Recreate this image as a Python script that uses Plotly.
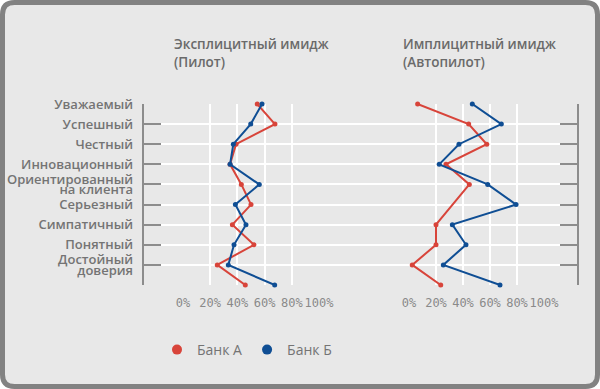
import plotly.graph_objects as go

# ---------------- data ----------------
categories = ["Уважаемый", "Успешный", "Честный", "Инновационный",
              "Ориентированный<br>на клиента", "Серьезный", "Симпатичный",
              "Понятный", "Достойный<br>доверия", ""]
rows = list(range(len(categories)))

explicit_bank_a = [54.6, 67.6, 39.0, 34.6, 42.9, 50.0, 36.3, 52.2, 25.2, 45.8]
explicit_bank_b = [58.1, 49.8, 37.0, 34.6, 56.1, 38.5, 46.3, 37.5, 33.3, 67.4]
implicit_bank_a = [6.4, 44.2, 57.6, 27.4, 44.7, None, 20.0, 20.0, 2.4, 23.5]
implicit_bank_b = [46.9, 68.4, 37.0, 22.4, 58.3, 79.3, 32.1, 42.2, 25.4, 67.4]

x_tickvals = [0, 20, 40, 60, 80, 100]
x_ticktext = ["0%", "20%", "40%", "60%", "80%", "100%"]

series_names = ["Банк А", "Банк Б"]
titles = ["Эксплицитный имидж<br>(Пилот)", "Имплицитный имидж<br>(Автопилот)"]

# ---------------- style ----------------
RED = "#d8443a"
BLUE = "#0f4e94"
BG = "#e8e8e8"
FRAME = "#828282"
TXT = "#747474"
AX = "#8c8c8c"
W, H = 600, 389
L, R, T, B = 144, 577, 104, 285
LINE_GAP = 0.26  # half line spacing (in row units) for two-line labels


def px_x(p):
    return (p - L) / (R - L)


def px_y(p):
    return (B - p) / (B - T)


# category labels split into lines (tight line spacing like the original)
label_pos, label_txt = [], []
for i, c in enumerate(categories):
    if not c:
        continue
    parts = c.split("<br>")
    if len(parts) == 1:
        label_pos.append(i)
        label_txt.append(c)
    else:
        label_pos += [i - LINE_GAP, i + LINE_GAP]
        label_txt += parts

fig = go.Figure()

# base full-width subplot (carries horizontal grid lines and both side axes)
for ya in ["y", "y2", "y3"]:
    fig.add_trace(go.Scatter(x=[None], y=[None], xaxis="x", yaxis=ya,
                             showlegend=False, hoverinfo="skip"))

panels = [("x2", explicit_bank_a, explicit_bank_b),
          ("x3", implicit_bank_a, implicit_bank_b)]
for xa, a_vals, b_vals in panels:
    for vals, col, name in [(a_vals, RED, series_names[0]), (b_vals, BLUE, series_names[1])]:
        fig.add_trace(go.Scatter(
            x=vals, y=rows, xaxis=xa, yaxis="y", mode="lines+markers",
            line=dict(color=col, width=2), marker=dict(color=col, size=5),
            connectgaps=True, cliponaxis=False, showlegend=False, name=name))

# legend entries (dots only)
for col, name in [(RED, series_names[0]), (BLUE, series_names[1])]:
    fig.add_trace(go.Scatter(x=[None], y=[None], xaxis="x2", yaxis="y",
                             mode="markers", marker=dict(color=col, size=10),
                             name=name, showlegend=True))

xcommon = dict(range=[0, 100], tickvals=x_tickvals, ticktext=x_ticktext,
               showgrid=True, gridcolor="white", gridwidth=1.5, zeroline=False,
               showline=False, ticks="", anchor="y", tickangle=0, automargin=False,
               tickfont=dict(family="DejaVu Sans Mono", size=12, color="#8a8a8a"),
               ticklabelstandoff=9)

# frame with rounded corners
r = 12
x0, y0, x1, y1 = 2.5, 2.5, W - 2.5, H - 2.5


def P(x, y):
    return f"{px_x(x):.5f},{px_y(y):.5f}"


path = (f"M {P(x0 + r, y0)} L {P(x1 - r, y0)} Q {P(x1, y0)} {P(x1, y0 + r)} "
        f"L {P(x1, y1 - r)} Q {P(x1, y1)} {P(x1 - r, y1)} "
        f"L {P(x0 + r, y1)} Q {P(x0, y1)} {P(x0, y1 - r)} "
        f"L {P(x0, y0 + r)} Q {P(x0, y0)} {P(x0 + r, y0)} Z")

yside = dict(range=[9, 0], tickvals=rows, showticklabels=False, zeroline=False,
             showline=True, linecolor=AX, linewidth=2, automargin=False,
             ticks="inside", ticklen=17, tickwidth=2, tickcolor=AX)

fig.update_layout(
    width=W, height=H,
    margin=dict(l=L, r=W - R, t=T, b=H - B, pad=0, autoexpand=False),
    paper_bgcolor="white", plot_bgcolor="rgba(0,0,0,0)",
    font=dict(family="Open Sans", color=TXT),
    xaxis=dict(domain=[0, 1], range=[0, 1], visible=False, anchor="y", automargin=False),
    xaxis2=dict(domain=[px_x(183), px_x(319)], **xcommon),
    xaxis3=dict(domain=[px_x(409), px_x(544)], **xcommon),
    yaxis=dict(showgrid=True, gridcolor="white", gridwidth=1.5, anchor="x", **yside),
    yaxis2=dict(overlaying="y", side="right", anchor="x", showgrid=False, **yside),
    yaxis3=dict(overlaying="y", side="left", anchor="x", range=[9, 0],
                tickvals=label_pos, ticktext=label_txt, showgrid=False,
                zeroline=False, showline=False, ticks="", automargin=False,
                tickfont=dict(family="Open Sans", size=13, color=TXT, weight=600),
                ticklabelstandoff=10),
    shapes=[dict(type="path", xref="paper", yref="paper", path=path,
                 fillcolor=BG, line=dict(color=FRAME, width=5), layer="below")],
    annotations=[
        dict(text=titles[0], xref="paper", yref="paper", x=px_x(172), y=px_y(33),
             xanchor="left", yanchor="top", align="left", showarrow=False,
             font=dict(family="Open Sans", size=13.5, color="#6a6a6a", weight=600)),
        dict(text=titles[1], xref="paper", yref="paper", x=px_x(401), y=px_y(33),
             xanchor="left", yanchor="top", align="left", showarrow=False,
             font=dict(family="Open Sans", size=13.5, color="#6a6a6a", weight=600)),
    ],
    legend=dict(orientation="h", x=px_x(157), y=px_y(334), xanchor="left", yanchor="top",
                bgcolor="rgba(0,0,0,0)", font=dict(family="Open Sans", size=14, color=TXT),
                itemsizing="trace", itemwidth=30, traceorder="normal"),
    showlegend=True,
)

fig.write_html("out.html", config={"displayModeBar": False},
               post_script="document.body.style.margin='0';")
